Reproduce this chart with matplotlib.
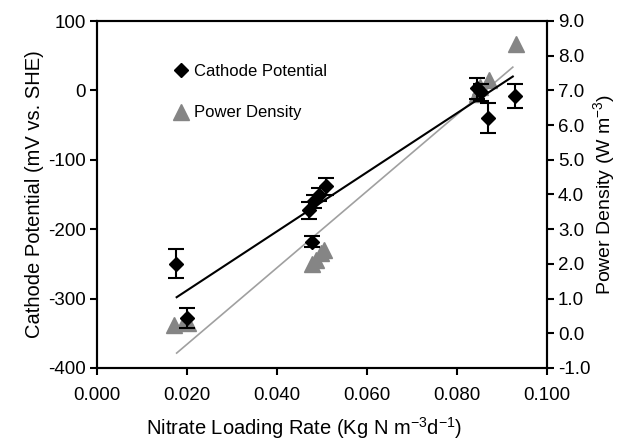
import matplotlib
matplotlib.use("Agg")
import matplotlib.pyplot as plt
from matplotlib.lines import Line2D
import numpy as np

plt.rcParams['font.family'] = ['Liberation Sans', 'DejaVu Sans']
plt.rcParams['mathtext.default'] = 'regular'

# Cathode potential (mV vs. SHE)
cath_x = [0.0175, 0.0199, 0.0477, 0.0471, 0.0482, 0.0494, 0.0508, 0.0845, 0.0853, 0.0868, 0.0928]
cath_y = [-250, -328, -218, -173, -160, -150, -138, 3, -3, -40, -8]
cath_err = [21, 14, 8, 12, 10, 10, 12, 15, 12, 22, 17]

# Power density (W m-3)
pd_x = [0.0172, 0.0195, 0.0203, 0.0477, 0.0487, 0.0497, 0.0505, 0.0845, 0.0852, 0.0870, 0.0930]
pd_y = [0.25, 0.35, 0.3, 2.0, 2.1, 2.3, 2.4, 6.9, 7.1, 7.3, 8.35]

# Trend lines
fit_x = [0.0177, 0.0924]
cath_fit = [-298, 20]
pd_fit = [-0.57, 7.67]

x_ticks = [0.0, 0.02, 0.04, 0.06, 0.08, 0.10]
left_ticks = [-400, -300, -200, -100, 0, 100]
right_ticks = [-1, 0, 1, 2, 3, 4, 5, 6, 7, 8, 9]

fig = plt.figure(figsize=(6.17, 4.42), dpi=100)
ax = fig.add_axes([97/617, 1-368/442, 450/617, 347/442])
ax2 = ax.twinx()

ax.set_xlim(0, 0.1)
ax.set_ylim(-400, 100)
ax2.set_ylim(-1, 9)

gray = '#858585'
ax2.plot(fit_x, pd_fit, color='#a0a0a0', lw=1.2, zorder=1)
ax2.plot(pd_x, pd_y, linestyle='none', marker='^', ms=11, color=gray, mec=gray, zorder=2)

ax.set_zorder(ax2.get_zorder() + 1)
ax.patch.set_visible(False)
ax.plot(fit_x, cath_fit, color='black', lw=1.5, zorder=3)
ax.errorbar(cath_x, cath_y, yerr=cath_err, fmt='D', ms=7.5, color='black',
            ecolor='black', elinewidth=1.5, capsize=6, capthick=1.5, zorder=4)

ax.set_xticks(x_ticks)
ax.set_xticklabels([f'{v:.3f}' for v in x_ticks])
ax.set_yticks(left_ticks)
ax.set_yticklabels([f'{v:d}' for v in left_ticks])
ax2.set_yticks(right_ticks)
ax2.set_yticklabels([f'{v:.1f}' for v in right_ticks])

for a in (ax, ax2):
    a.tick_params(direction='out', length=5, width=1.5, labelsize=13.5, colors='black', pad=3)
    for s in a.spines.values():
        s.set_linewidth(1.5)
ax.tick_params(axis='x', pad=9)

ax.set_xlabel('Nitrate Loading Rate (Kg N m$^{-3}$d$^{-1}$)', fontsize=14.5)
ax.xaxis.set_label_coords(0.46, -0.135)
ax.set_ylabel('Cathode Potential (mV vs. SHE)', fontsize=14.5, labelpad=3)
ax2.set_ylabel('Power Density (W m$^{-3}$)', fontsize=14, labelpad=0)

handles = [Line2D([], [], marker='D', color='black', linestyle='none', ms=7.5),
           Line2D([], [], marker='^', color=gray, linestyle='none', ms=11)]
ax.legend(handles, ['Cathode Potential', 'Power Density'], loc='upper left',
          bbox_to_anchor=(0.135, 0.92), frameon=False, fontsize=12,
          handlelength=1.0, handletextpad=0.3, labelspacing=1.6)

fig.savefig('out.png', dpi=100)
